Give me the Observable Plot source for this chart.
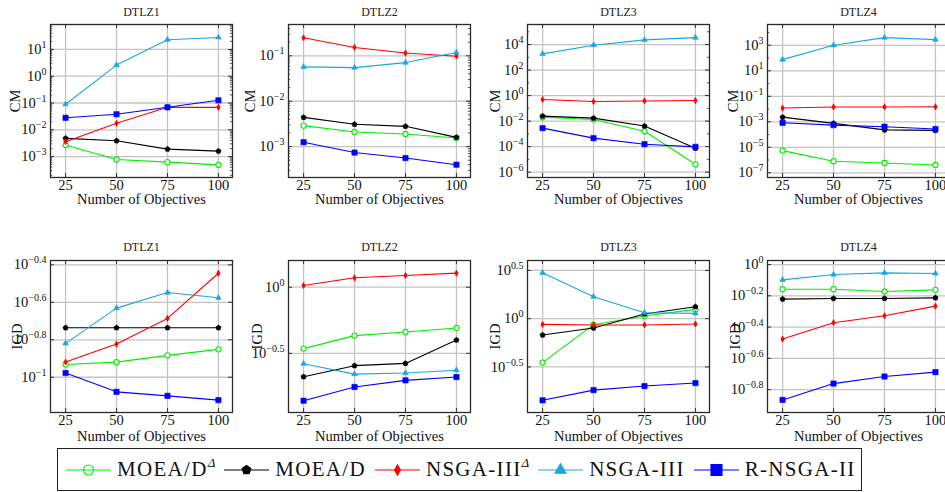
<!DOCTYPE html>
<html><head><meta charset="utf-8">
<script src="https://cdn.jsdelivr.net/npm/d3@7"></script>
<script src="https://cdn.jsdelivr.net/npm/@observablehq/plot@0.6"></script>
<style>
html,body{margin:0;padding:0;background:#fff;}
#chart{position:relative;width:945px;height:492px;overflow:hidden;font-family:"Liberation Serif","Times New Roman",serif;background:#fff;}
.panel{position:absolute;}
svg.panel, svg.panel text, svg.panel tspan{font-family:"Liberation Serif","Times New Roman",serif !important;}
#legend{position:absolute;left:57px;top:448px;width:805px;height:43px;box-sizing:border-box;border:1.3px solid #222;display:flex;align-items:center;padding-left:8px;}
.item{display:flex;align-items:center;margin-right:9px;}
.item svg{margin-right:6px;display:block;}
.item span{font-size:21px;letter-spacing:1.3px;color:#111;white-space:nowrap;}
.item sup{font-style:italic;font-size:0.62em;vertical-align:0.7em;line-height:0;letter-spacing:0;}
</style></head><body><div id="chart"><div id="legend"></div></div>
<script>
// ---------------- data ----------------
const objectives = [25, 50, 75, 100];
const algorithms = ["MOEA/D^Δ", "MOEA/D", "NSGA-III^Δ", "NSGA-III", "R-NSGA-II"];
const problems = ["DTLZ1", "DTLZ2", "DTLZ3", "DTLZ4"];

// rows follow the algorithms order, columns follow objectives
const cmDTLZ1 = [
  [0.0027, 0.00078, 0.00062, 0.00049],
  [0.0048, 0.0039, 0.0019, 0.0016],
  [0.0036, 0.0175, 0.069, 0.069],
  [0.09, 2.6, 23, 28],
  [0.028, 0.038, 0.069, 0.126]
];
const cmDTLZ2 = [
  [0.0029, 0.0021, 0.0019, 0.00155],
  [0.0044, 0.0031, 0.0028, 0.0016],
  [0.25, 0.153, 0.115, 0.098],
  [0.057, 0.055, 0.071, 0.118],
  [0.00125, 0.00074, 0.00056, 0.0004]
];
const cmDTLZ3 = [
  [0.020, 0.0135, 0.0016, 0.0000041],
  [0.0245, 0.017, 0.0041, 0.000074],
  [0.49, 0.34, 0.38, 0.41],
  [1860, 8900, 23000, 35000],
  [0.0028, 0.00046, 0.000155, 0.000095]
];
const cmDTLZ4 = [
  [0.0000055, 0.0000008, 0.00000059, 0.00000041],
  [0.0023, 0.00075, 0.00023, 0.00021],
  [0.012, 0.0145, 0.0145, 0.015],
  [75, 1000, 4000, 2800],
  [0.00083, 0.00055, 0.00041, 0.00027]
];
const igdDTLZ1 = [
  [0.1169, 0.1205, 0.1309, 0.1409],
  [0.1837, 0.1837, 0.1837, 0.1837],
  [0.1205, 0.1503, 0.2061, 0.3589],
  [0.1517, 0.2339, 0.2831, 0.2655],
  [0.1054, 0.0836, 0.0796, 0.0755]
];
const igdDTLZ2 = [
  [0.3436, 0.4305, 0.4592, 0.492],
  [0.2104, 0.2553, 0.2655, 0.399],
  [1.03, 1.178, 1.227, 1.277],
  [0.2642, 0.2203, 0.2244, 0.236],
  [0.1387, 0.1762, 0.1977, 0.2094]
];
const igdDTLZ3 = [
  [0.351, 0.867, 1.067, 1.248],
  [0.678, 0.801, 1.119, 1.33],
  [0.873, 0.861, 0.861, 0.881],
  [2.99, 1.689, 1.153, 1.135],
  [0.1426, 0.182, 0.2004, 0.2153]
];
const igdDTLZ4 = [
  [0.695, 0.695, 0.673, 0.689],
  [0.601, 0.607, 0.607, 0.612],
  [0.3334, 0.4246, 0.4699, 0.542],
  [0.798, 0.863, 0.885, 0.877],
  [0.136, 0.173, 0.192, 0.205]
];

// tick labels (exponents of 10)
const cmTickExponents = [[-3, -2, -1, 0, 1], [-3, -2, -1], [-6, -4, -2, 0, 2, 4], [-7, -5, -3, -1, 1, 3]];
const igdTickExponents = [[-1, -0.8, -0.6, -0.4], [-0.5, 0], [-0.5, 0, 0.5], [-0.8, -0.6, -0.4, -0.2, 0]];

// ---------------- styling / layout ----------------
const colors = ["#00ee00", "#000000", "#ff0000", "#1aa7e2", "#0000ff"];
const pentagon = {
  draw(context, size) {
    const R = Math.sqrt(size / 2.3776);
    for (let k = 0; k < 5; k++) {
      const a = -Math.PI / 2 + k * 2 * Math.PI / 5;
      const px = R * Math.cos(a), py = R * Math.sin(a);
      if (k === 0) context.moveTo(px, py); else context.lineTo(px, py);
    }
    context.closePath();
  }
};
const symbols = ["circle", pentagon, "diamond", "triangle", "square"];
const radii = [2.6, 2.4, 1.9, 2.1, 3.0];
const hollow = [true, false, false, false, false];

const cmExtent = [[-3.78, 1.93], [-3.68, -0.31], [-6.42, 5.57], [-7.37, 4.63]];
const igdExtent = [[-1.188, -0.377], [-0.947, 0.202], [-0.972, 0.603], [-0.947, 0.026]];
const svgLefts = [0, 238, 477, 717];
const cmLabelDx = [35, 38, 32, 34];
const igdLabelDx = [33, 31, 32, 32];

const FONT = '"Liberation Serif", "Times New Roman", serif';
const W = 237, H = 210, mL = 50, mR = 5;

function fmtExp(e) {
  const s = String(Math.round(e * 10) / 10);
  return s.replace("-", "−");
}

function makePanel(metric, pi, values, tickExps, ext, row, labelDx) {
  const mT = row === 0 ? 24 : 27, mB = row === 0 ? 33 : 31;
  const fw = W - mL - mR, fh = H - mT - mB;
  const majors = tickExps.map(e => 10 ** e);
  const minors = [];
  if (metric === "CM") {
    const step = tickExps[1] - tickExps[0];
    for (let e = Math.floor(ext[0]); e <= Math.ceil(ext[1]); e++) {
      const ks = step === 1 ? [2, 3, 4, 5, 6, 7, 8, 9] : [1];
      for (const k of ks) {
        const v = k * 10 ** e;
        const lv = Math.log10(v);
        if (lv > ext[0] && lv < ext[1] && !tickExps.some(t => Math.abs(t - lv) < 1e-9)) minors.push(v);
      }
    }
  }
  const series = algorithms.map((a, i) => objectives.map((o, j) => ({obj: o, alg: a, v: values[i][j]})));
  const marks = [
    Plot.gridX(objectives, {stroke: "#c4c4c4", strokeOpacity: 1, strokeWidth: 1.3}),
    Plot.gridY(majors, {stroke: "#c4c4c4", strokeOpacity: 1, strokeWidth: 1.3}),
    Plot.tickY(majors, {y: d => d, insetRight: fw - 4, stroke: "#333"}),
    Plot.tickY(majors, {y: d => d, insetLeft: fw - 4, stroke: "#333"}),
    Plot.tickY(minors, {y: d => d, insetRight: fw - 2.2, stroke: "#333", strokeWidth: 0.8}),
    Plot.tickY(minors, {y: d => d, insetLeft: fw - 2.2, stroke: "#333", strokeWidth: 0.8}),
    Plot.tickX(objectives, {x: d => d, insetTop: fh - 4, stroke: "#333"}),
    Plot.tickX(objectives, {x: d => d, insetBottom: fh - 4, stroke: "#333"})
  ];
  series.forEach((s, i) => {
    marks.push(Plot.line(s, {x: "obj", y: "v", stroke: colors[i], strokeWidth: 1.1}));
    marks.push(Plot.dot(s, {x: "obj", y: "v", symbol: () => symbols[i], r: radii[i],
      stroke: colors[i], strokeWidth: hollow[i] ? 1.1 : 0.6, fill: hollow[i] ? "white" : colors[i]}));
  });
  marks.push(
    Plot.frame({stroke: "#2a2a2a", strokeWidth: 1.3}),
    Plot.axisX(objectives, {tickSize: 0, tickPadding: 2, label: null, fontSize: 14.5, tickFormat: d => String(d)}),
    // y tick labels as a text mark (avoids the log-scale label thinning)
    Plot.text(majors, {y: d => d, frameAnchor: "left", textAnchor: "end", lineAnchor: "middle", dx: -4,
      fontSize: 14.5, text: v => "10^" + fmtExp(Math.log10(v))}),
    Plot.text([problems[pi]], {frameAnchor: "top", lineAnchor: "middle", dy: row === 0 ? -12 : -13, fontSize: 12, fill: "#222"}),
    Plot.text(["Number of Objectives"], {frameAnchor: "bottom", lineAnchor: "middle", dy: row === 0 ? 22 : 23.5, fontSize: 14.5}),
    Plot.text([metric], {frameAnchor: "left", textAnchor: "middle", lineAnchor: "middle", dx: -labelDx, rotate: -90, fontSize: 14.5})
  );
  const svg = Plot.plot({
    width: W, height: H, marginLeft: mL, marginRight: mR, marginTop: mT, marginBottom: mB,
    x: {domain: [17.6, 106.9], axis: null},
    y: {type: "log", domain: [10 ** ext[0], 10 ** ext[1]], axis: null},
    style: {fontSize: "14.5px", color: "#111", background: "transparent", overflow: "visible"},
    marks
  });
  svg.setAttribute("font-family", FONT);
  // superscripts for 10^e labels
  svg.querySelectorAll("text").forEach(t => {
    const s = t.textContent;
    if (s.includes("^")) {
      const [b, e] = s.split("^");
      t.textContent = b;
      const ts = document.createElementNS("http://www.w3.org/2000/svg", "tspan");
      ts.setAttribute("dy", "-6");
      ts.setAttribute("font-size", "10");
      ts.textContent = e;
      t.appendChild(ts);
    }
  });
  svg.classList.add("panel");
  svg.style.left = svgLefts[pi] + "px";
  svg.style.top = (row === 0 ? 0 : 233) + "px";
  svg.style.position = "absolute";
  return svg;
}

const chart = document.getElementById("chart");
const cmData = [cmDTLZ1, cmDTLZ2, cmDTLZ3, cmDTLZ4];
const igdData = [igdDTLZ1, igdDTLZ2, igdDTLZ3, igdDTLZ4];
problems.forEach((p, i) => {
  chart.appendChild(makePanel("CM", i, cmData[i], cmTickExponents[i], cmExtent[i], 0, cmLabelDx[i]));
  chart.appendChild(makePanel("IGD", i, igdData[i], igdTickExponents[i], igdExtent[i], 1, igdLabelDx[i]));
});

// ---------------- legend ----------------
const legendSizes = [78, 50, 30, 52, 121];
const legend = document.getElementById("legend");
algorithms.forEach((a, i) => {
  const item = document.createElement("div");
  item.className = "item";
  const svg = d3.create("svg").attr("width", 45).attr("height", 16);
  svg.append("line").attr("x1", 0).attr("x2", 45).attr("y1", 8).attr("y2", 8)
    .attr("stroke", colors[i]).attr("stroke-width", 1.2);
  const type = [d3.symbolCircle, pentagon, d3.symbolDiamond, d3.symbolTriangle, d3.symbolSquare][i];
  svg.append("path").attr("transform", "translate(22.5,8)")
    .attr("d", d3.symbol(type, legendSizes[i])())
    .attr("fill", hollow[i] ? "none" : colors[i]).attr("stroke", colors[i]).attr("stroke-width", 1.1);
  item.appendChild(svg.node());
  const span = document.createElement("span");
  const [base, sup] = a.split("^");
  span.textContent = base;
  if (sup) {
    const s = document.createElement("sup");
    s.textContent = sup;
    span.appendChild(s);
  }
  item.appendChild(span);
  legend.appendChild(item);
});
</script></body></html>
